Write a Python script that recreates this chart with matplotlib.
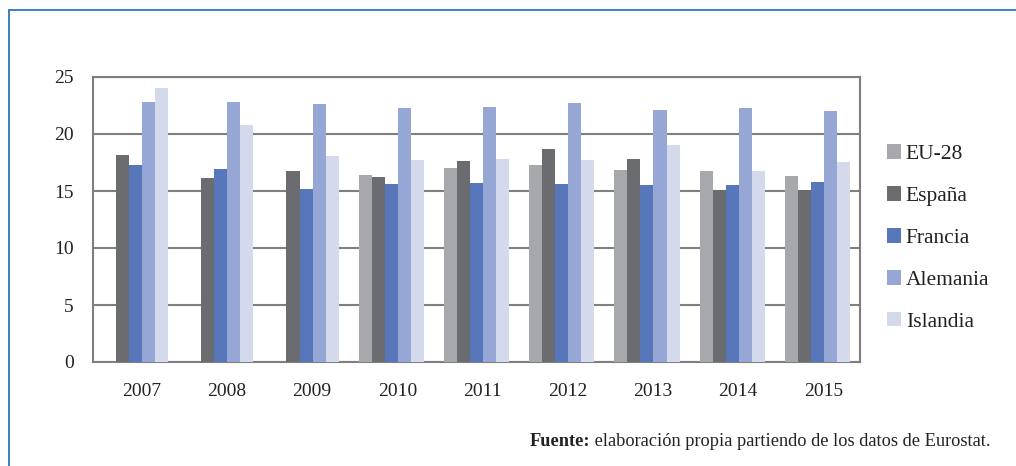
import numpy as np
import matplotlib
matplotlib.use("Agg")
import matplotlib.pyplot as plt
import matplotlib.transforms as mtransforms
from matplotlib.patches import Rectangle

years = ["2007", "2008", "2009", "2010", "2011", "2012", "2013", "2014", "2015"]
series_names = ["EU-28", "España", "Francia", "Alemania", "Islandia"]
eu28 = [np.nan, np.nan, np.nan, 16.4, 17.0, 17.3, 16.85, 16.75, 16.3]
espana = [18.15, 16.1, 16.75, 16.2, 17.6, 18.7, 17.8, 15.1, 15.1]
francia = [17.3, 16.9, 15.2, 15.6, 15.7, 15.6, 15.5, 15.5, 15.8]
alemania = [22.8, 22.8, 22.6, 22.3, 22.4, 22.7, 22.1, 22.3, 22.0]
islandia = [24.0, 20.8, 18.05, 17.7, 17.8, 17.7, 19.0, 16.75, 17.55]
yticks = [0, 5, 10, 15, 20, 25]
source_bold = "Fuente:"
source_text = " elaboración propia partiendo de los datos de Eurostat."

colors = ["#A7A8AB", "#6B6C70", "#5777BA", "#97A7D5", "#D5D9EC"]
data = [eu28, espana, francia, alemania, islandia]

plt.rcParams['font.family'] = ['Liberation Serif', 'DejaVu Serif']

W, H = 1016, 466
fig = plt.figure(figsize=(W / 100, H / 100), dpi=100)
fig.patch.set_facecolor("white")

# blue frame
frame = Rectangle((9 / W, -0.1), 1.2, (H - 10) / H + 0.1, transform=fig.transFigure,
                  fill=False, edgecolor="#3C7FC0", linewidth=1.4, clip_on=False)
fig.add_artist(frame)

ax = fig.add_axes([93 / W, (H - 362) / H, (860 - 93) / W, (362 - 77) / H])
x = np.arange(len(years))
bw = 0.153
for i, (name, vals, c) in enumerate(zip(series_names, data, colors)):
    ax.bar(x + (i - 2) * bw, vals, width=bw, color=c, label=name, zorder=3)

ax.set_xlim(-0.5, len(years) - 0.5)
ax.set_ylim(0, 25)
ax.set_yticks(yticks)
ax.set_yticklabels([str(t) for t in yticks])
ax.set_xticks(x)
ax.set_xticklabels(years)
ax.tick_params(axis="both", length=0, labelsize=14, colors="#222222")
ax.tick_params(axis="y", pad=14)
ax.tick_params(axis="x", pad=15)
offset = mtransforms.ScaledTranslation(6 / 100, 0, fig.dpi_scale_trans)
for lbl in ax.get_xticklabels():
    lbl.set_transform(lbl.get_transform() + offset)
ax.yaxis.grid(True, color="#7F7F7F", linewidth=1.5, zorder=0)
ax.set_axisbelow(True)
for s in ax.spines.values():
    s.set_color("#7F7F7F")
    s.set_linewidth(1.5)

leg = fig.legend(loc="upper left", bbox_to_anchor=(868 / W, (H - 125) / H),
                 frameon=False, fontsize=15.5, handlelength=0.65, handleheight=0.65,
                 handletextpad=0.2, labelspacing=1.03)
for t in leg.get_texts():
    t.set_color("#222222")

t1 = fig.text(530 / W, (H - 441) / H, source_bold, fontsize=13.2, fontweight="bold",
              va="center", ha="left", color="#222222")
fig.canvas.draw()
bb = t1.get_window_extent()
fig.text(bb.x1 / W, (H - 441) / H, source_text, fontsize=13.2, va="center", ha="left",
         color="#222222")

fig.savefig("out.png", dpi=100)
